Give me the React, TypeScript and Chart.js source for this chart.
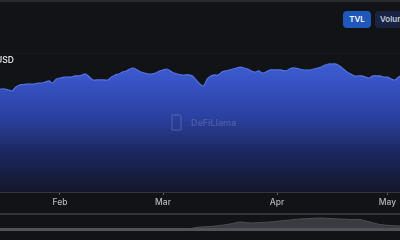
import { useEffect, useRef } from "react";
import { Chart, registerables } from "chart.js";
Chart.register(...registerables);

// Day-of-year of the first TVL value (0 = Jan 1)
const START_DAY = 14;
// TVL, billions USD (daily)
const tvl = [
  7.41, 7.41, 7.41, 7.34, 7.27, 7.55, 7.7, 7.73, 7.77, 7.77, 7.77, 7.84, 7.84, 7.91, 7.99, 7.84, 8.13,
  8.2, 8.27, 8.27, 8.27, 8.35, 8.35, 8.42, 8.49, 8.27, 8.06, 8.06, 8.06, 8.06, 8.06, 8.27, 8.42, 8.49,
  8.63, 8.71, 8.85, 8.92, 8.78, 8.63, 8.56, 8.49, 8.49, 8.56, 8.71, 8.78, 8.85, 8.71, 8.56, 8.49, 8.42,
  8.42, 8.42, 8.35, 8.06, 7.77, 7.63, 8.13, 8.35, 8.42, 8.42, 8.63, 8.71, 8.78, 8.85, 8.92, 8.99, 8.92,
  8.85, 8.71, 8.63, 8.71, 8.56, 8.63, 8.78, 8.78, 8.78, 8.78, 8.71, 8.78, 8.92, 8.92, 8.85, 8.78, 8.78,
  8.78, 8.85, 8.92, 8.99, 9.14, 9.21, 9.21, 9.21, 9.06, 8.85, 8.63, 8.49, 8.35, 8.35, 8.35, 8.27, 8.2,
  8.35, 8.35, 8.35, 8.27, 8.27, 8.13, 8.06, 8.27, 8.42, 8.42,
];
const tickDays = [31, 59, 90, 120];
const tickLabels = ["Feb", "Mar", "Apr", "May"];
// Navigator (full history, relative)
const brushValues = [
  0.4, 0.4, 0.4, 0.4, 0.4, 0.4, 0.4, 0.4, 0.4, 0.4, 0.4, 0.4, 0.4, 0.4, 0.4, 0.4, 0.4, 0.4, 0.4, 0.5,
  2, 2.5, 3.5, 5, 7, 6, 6.5, 7, 8, 9, 10, 10.5, 11, 10.5, 10, 9.5, 9.5, 7, 4.5, 3.5, 3,
];

const BG = "#121316";

export default function App() {
  const mainRef = useRef<HTMLCanvasElement>(null);
  const brushRef = useRef<HTMLCanvasElement>(null);

  useEffect(() => {
    const points = tvl.map((v, i) => ({ x: START_DAY + i, y: v }));
    const main = new Chart(mainRef.current!, {
      type: "line",
      data: {
        datasets: [
          {
            data: points,
            fill: "origin",
            backgroundColor: (ctx: any) => {
              const ca = ctx.chart.chartArea;
              if (!ca) return "#2b44a6";
              const g = ctx.chart.ctx.createLinearGradient(0, ca.top, 0, ca.bottom);
              g.addColorStop(0, "#3f5ed6");
              g.addColorStop(0.15, "#3a57cb");
              g.addColorStop(0.45, "#2b42a2");
              g.addColorStop(0.72, "#1c265e");
              g.addColorStop(1, "#14172a");
              return g;
            },
            borderColor: "#5574e4",
            borderWidth: 1.2,
            pointRadius: 0,
            tension: 0.25,
          },
        ],
      },
      options: {
        animation: false,
        responsive: false,
        maintainAspectRatio: false,
        layout: { padding: { top: 53, left: 0, right: 0, bottom: 0 } },
        plugins: { legend: { display: false }, tooltip: { enabled: false } },
        scales: {
          x: {
            type: "linear",
            min: 14.7,
            max: 123.4,
            afterBuildTicks: (s: any) => {
              s.ticks = tickDays.map((v) => ({ value: v }));
            },
            afterFit: (s: any) => {
              s.height = 20;
            },
            ticks: {
              callback: (v: any) => tickLabels[tickDays.indexOf(Number(v))] ?? "",
              color: "#b4b6bb",
              font: { family: "Inter", size: 8.5, weight: 500 },
              padding: 2,
              maxRotation: 0,
              autoSkip: false,
            },
            grid: { drawOnChartArea: false, drawTicks: true, tickLength: 3, color: "#5a5c61" },
            border: { color: "#34363a" },
          },
          y: {
            min: 0,
            max: 10,
            ticks: { display: false, stepSize: 5 },
            grid: { color: "#191a1e", drawTicks: false },
            border: { display: false },
            afterFit: (s: any) => {
              s.width = 0;
            },
          },
        },
      },
    });

    const brush = new Chart(brushRef.current!, {
      type: "line",
      data: {
        labels: brushValues.map((_, i) => String(i)),
        datasets: [
          {
            data: brushValues,
            fill: "origin",
            backgroundColor: "#393b41",
            borderColor: "#4b4d53",
            borderWidth: 1,
            pointRadius: 0,
            tension: 0.2,
          },
        ],
      },
      options: {
        animation: false,
        responsive: false,
        maintainAspectRatio: false,
        layout: { padding: 0 },
        plugins: { legend: { display: false }, tooltip: { enabled: false } },
        scales: {
          x: { display: false },
          y: { display: false, min: 0, max: 14 },
        },
      },
    });

    return () => {
      main.destroy();
      brush.destroy();
    };
  }, []);

  return (
    <div
      style={{
        position: "fixed",
        left: 0,
        top: 0,
        width: 400,
        height: 240,
        overflow: "hidden",
        background: BG,
        fontFamily: "Inter, 'Noto Sans', sans-serif",
      }}
    >
      <div style={{ position: "absolute", left: 0, top: 0, width: 400, height: 2, background: "#2a2b2f" }} />
      <canvas ref={mainRef} width={400} height={212} style={{ position: "absolute", left: 0, top: 0 }} />
      <div
        style={{
          position: "absolute",
          left: 343,
          top: 11,
          width: 28,
          height: 17,
          borderRadius: 4,
          background: "#1f57bb",
          color: "#ffffff",
          fontSize: 8,
          fontWeight: 600,
          lineHeight: "17px",
          textAlign: "center",
        }}
      >
        TVL
      </div>
      <div
        style={{
          position: "absolute",
          left: 375,
          top: 11,
          width: 40,
          height: 17,
          borderRadius: 4,
          background: "#1a2442",
          color: "#c3cbdd",
          fontSize: 8,
          fontWeight: 600,
          lineHeight: "17px",
          paddingLeft: 5,
          whiteSpace: "nowrap",
        }}
      >
        Volume
      </div>
      <div
        style={{
          position: "absolute",
          left: -4,
          top: 55,
          color: "#dcdde0",
          fontSize: 8.5,
          fontWeight: 600,
          whiteSpace: "nowrap",
        }}
      >
        USD
      </div>
      <div
        style={{
          position: "absolute",
          left: 171,
          top: 114,
          width: 11,
          height: 17,
          borderRadius: 2,
          border: "2px solid rgba(120,135,190,0.25)",
          boxSizing: "border-box",
        }}
      />
      <div
        style={{
          position: "absolute",
          left: 191,
          top: 117,
          color: "rgba(150,160,200,0.32)",
          fontSize: 9,
          fontWeight: 600,
          whiteSpace: "nowrap",
        }}
      >
        DeFiLlama
      </div>
      <div style={{ position: "absolute", left: 0, top: 213, width: 400, height: 2, background: "#33353a" }} />
      <canvas ref={brushRef} width={400} height={14} style={{ position: "absolute", left: 0, top: 215 }} />
      <div style={{ position: "absolute", left: 0, top: 228, width: 400, height: 3, background: "#505257" }} />
    </div>
  );
}
